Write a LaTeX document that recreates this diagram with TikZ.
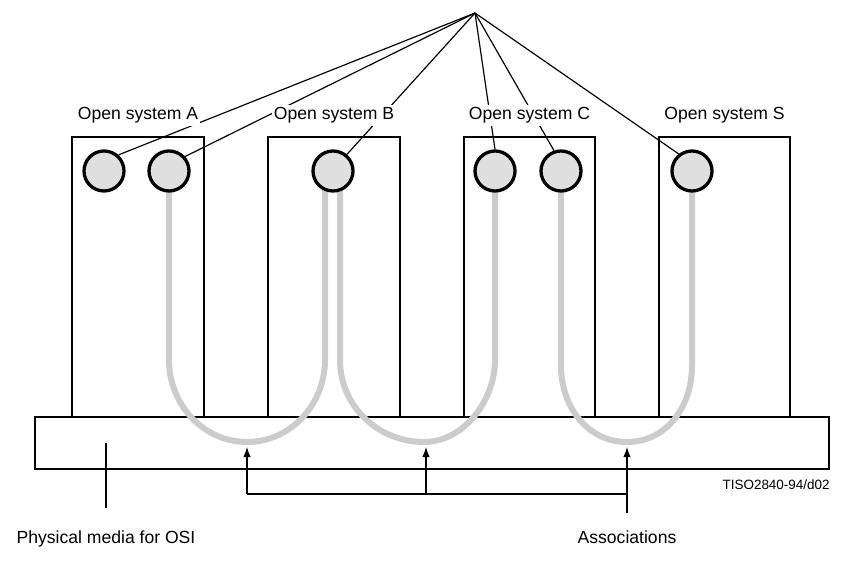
\documentclass[tikz,border=0pt]{standalone}
\usepackage{fontspec}
\setmainfont{Liberation Sans}
\usetikzlibrary{positioning}
\usetikzlibrary{calc}
\usetikzlibrary{arrows.meta}

\begin{document}
\begin{tikzpicture}[x=0.03cm, y=-0.03cm,
  sysbox/.style={draw, rectangle, line width=1.5pt, minimum width=3.95cm, minimum height=8.4cm},
  port/.style={draw, circle, line width=2.8pt, fill=gray!25, minimum size=1.2cm, inner sep=0pt},
  tube/.style={line width=0.18cm, gray!40},
  lbl/.style={fill=white, inner sep=2pt, font=\fontsize{15}{18}\selectfont}]
\useasboundingbox (0,0) rectangle (842,571);
% open systems and the physical media
\node at (432,443) [draw, name=Media, rectangle, line width=1.5pt, minimum width=23.82cm, minimum height=1.56cm]{};
\node at (138,277) [sysbox, name=SysA]{};
\node at (334,277) [sysbox, name=SysB]{};
\node at (529.5,277) [sysbox, name=SysC]{};
\node at (724.5,277) [sysbox, name=SysS]{};
\coordinate (a1) at (104,171);
\coordinate (a2) at (169,171);
\coordinate (b) at (333,171);
\coordinate (c1) at (495,171);
\coordinate (c2) at (561,171);
\coordinate (s) at (692,171);
\coordinate (bot1) at (247,442);
\coordinate (bot2) at (424,442);
\coordinate (bot3) at (627,442);
% associations
\draw[tube] (a2) -- ($(a2)+(0,189)$) .. controls +(0,44) and +(-44,0) .. (bot1)
  .. controls +(44,0) and +(0,44) .. ($(b)+(-8,189)$) -- ($(b)+(-8,0)$);
\draw[tube] ($(b)+(7,0)$) -- ($(b)+(7,189)$) .. controls +(0,46) and +(-46,0) .. (bot2)
  .. controls +(40,0) and +(0,40) .. ($(c1)+(0,189)$) -- (c1);
\draw[tube] (c2) -- ($(c2)+(0,195)$) .. controls +(0,40) and +(-40,0) .. (bot3)
  .. controls +(40,0) and +(0,40) .. ($(s)+(0,195)$) -- (s);
\node at (a1) [port, name=PortA1]{};
\node at (a2) [port, name=PortA2]{};
\node at (b) [port, name=PortB]{};
\node at (c1) [port, name=PortC1]{};
\node at (c2) [port, name=PortC2]{};
\node at (s) [port, name=PortS]{};
\coordinate (apex) at (475,13);
\draw[line width=1pt] (apex) -- (PortA1.48);
\draw[line width=1pt] (apex) -- (PortA2.42);
\draw[line width=1pt] (apex) -- (PortB.50);
\draw[line width=1pt] (apex) -- (PortC1.90);
\draw[line width=1pt] (apex) -- (PortC2.109);
\draw[line width=1pt] (apex) -- (PortS.128);
\node [lbl, above=0.3cm of SysA, name=LabelA]{Open system A};
\node [lbl, above=0.3cm of SysB, name=LabelB]{Open system B};
\node [lbl, above=0.3cm of SysC, name=LabelC]{Open system C};
\node [lbl, above=0.3cm of SysS, name=LabelS]{Open system S};
% pointers
\coordinate (j1) at (247,494);
\coordinate (j2) at (426,494);
\coordinate (j3) at (627,494);
\coordinate (assocEnd) at (627,513);
\draw[-{Latex[length=0.3cm, width=0.22cm]}, line width=1pt] (j1) -- ($(bot1)+(0,5)$);
\draw[-{Latex[length=0.3cm, width=0.22cm]}, line width=1pt] (j2) -- ($(bot2)+(2,5)$);
\draw[-{Latex[length=0.3cm, width=0.22cm]}, line width=1pt] (assocEnd) -- ($(bot3)+(0,5)$);
\draw[line width=1pt] (j1) -- (j3);
\coordinate (physTop) at (106,443);
\coordinate (physEnd) at (106,508);
\draw[line width=1pt] (physTop) -- (physEnd);
\node [lbl, below=0.62cm of physEnd, name=PhysLabel]{Physical media for OSI};
\node [lbl, below=0.47cm of assocEnd, name=AssocLabel]{Associations};
\node at ($(Media.south east)+(0,10)$) [anchor=north east, inner sep=0pt, font=\fontsize{11.5}{13}\selectfont, name=FigTag]{TISO2840-94/d02};
\end{tikzpicture}
\end{document}
